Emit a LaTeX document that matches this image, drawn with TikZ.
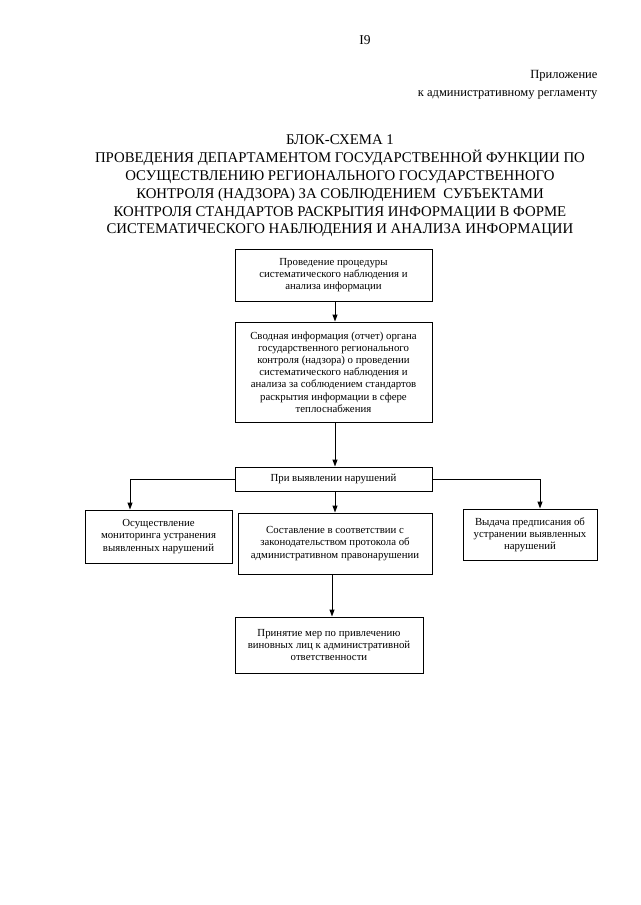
\documentclass[tikz,border=0pt]{standalone}
\usepackage{fontspec}
\setmainfont{Liberation Serif}
\usetikzlibrary{arrows.meta}
\tikzset{
  box/.style={draw, line width=1pt, align=center, inner sep=2pt,
    font=\fontsize{10.8}{12.2}\selectfont},
  link/.style={line width=1pt, -{Triangle[length=7pt,width=5pt]}}
}
\begin{document}
\begin{tikzpicture}[x=1pt,y=-1pt]
\useasboundingbox (0,0) rectangle (640,905);
\node (num) at (365,40) {\fontsize{13.5}{13.5}\selectfont I9};
\node[anchor=east, align=right, font=\fontsize{12.5}{17.5}\selectfont] (app) at (601,85)
  {Приложение\\к административному регламенту};
\node[align=center, font=\fontsize{14.8}{17.8}\selectfont] (title) at (340,186)
  {БЛОК-СХЕМА 1\\
   ПРОВЕДЕНИЯ ДЕПАРТАМЕНТОМ ГОСУДАРСТВЕННОЙ ФУНКЦИИ ПО\\
   ОСУЩЕСТВЛЕНИЮ РЕГИОНАЛЬНОГО ГОСУДАРСТВЕННОГО\\
   КОНТРОЛЯ (НАДЗОРА) ЗА СОБЛЮДЕНИЕМ \ СУБЪЕКТАМИ\\
   КОНТРОЛЯ СТАНДАРТОВ РАСКРЫТИЯ ИНФОРМАЦИИ В ФОРМЕ\\
   СИСТЕМАТИЧЕСКОГО НАБЛЮДЕНИЯ И АНАЛИЗА ИНФОРМАЦИИ};
\node[box, minimum width=197pt, minimum height=52pt] (proc) at (333.5,275)
  {Проведение процедуры\\систематического наблюдения и\\анализа информации};
\node[box, minimum width=197pt, minimum height=100pt] (report) at (333.5,372)
  {Сводная информация (отчет) органа\\государственного регионального\\
   контроля (надзора) о проведении\\систематического наблюдения и\\
   анализа за соблюдением стандартов\\раскрытия информации в сфере\\теплоснабжения};
\node[box, minimum width=197pt, minimum height=24pt] (found) at (333.5,479)
  {При выявлении нарушений};
\node[box, minimum width=147pt, minimum height=53pt] (monitor) at (158.5,536.5)
  {Осуществление\\мониторинга устранения\\выявленных нарушений};
\node[box, minimum width=194pt, minimum height=61pt] (protocol) at (335,543.5)
  {Составление в соответствии с\\законодательством протокола об\\административном правонарушении};
\node[box, minimum width=134pt, minimum height=51pt] (order) at (530,534.5)
  {Выдача предписания об\\устранении выявленных\\нарушений};
\node[box, minimum width=188pt, minimum height=56pt] (measures) at (329,645)
  {Принятие мер по привлечению\\виновных лиц к административной\\ответственности};
\draw[link] (proc.south -| 335,0) -- (report.north -| 335,0);
\draw[link] (report.south -| 335,0) -- (found.north -| 335,0);
\draw[link] (found.west) -| ([xshift=-28.5pt]monitor.north);
\draw[link] (found.east) -| ([xshift=10pt]order.north);
\draw[link] (found.south -| protocol.north) -- (protocol.north);
\draw[link] (protocol.south -| 332,0) -- (measures.north -| 332,0);
\end{tikzpicture}
\end{document}
